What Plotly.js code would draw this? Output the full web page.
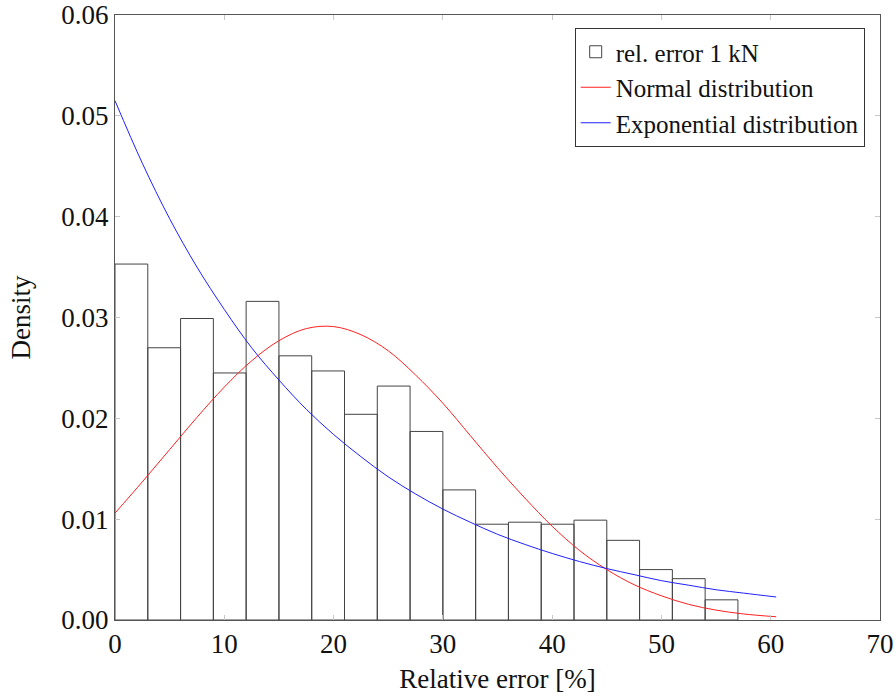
<!DOCTYPE html>
<html>
<head>
<meta charset="utf-8">
<script src="https://cdn.plot.ly/plotly-3.0.1.min.js"></script>
<style>html,body{margin:0;padding:0;background:#fff;}#chart{width:896px;height:697px;}</style>
</head>
<body>
<div id="chart"></div>
<script>
// Histogram bins (width 3) and densities
const binStarts = [0, 3, 6, 9, 12, 15, 18, 21, 24, 27, 30, 33, 36, 39, 42, 45, 48, 51, 54];
const binWidth = 3;
const densities = [0.0353, 0.0270, 0.0299, 0.0245, 0.0316, 0.0262, 0.0247, 0.0204, 0.0232, 0.0187,
                   0.0129, 0.0095, 0.0097, 0.0095, 0.0099, 0.0079, 0.0050, 0.0041, 0.0020];

// Fitted curves, points
const curveX = [0, 2.5, 5, 7.5, 10, 12.5, 15, 17.5, 20, 22.5, 25, 27.5, 30, 32.5, 35, 37.5, 40,
                42.5, 45, 47.5, 50, 52.5, 55, 57.5, 60.5];
const normalY = [0.0106, 0.0137, 0.0169, 0.0201, 0.0231, 0.0257, 0.0277, 0.0289, 0.0291, 0.0283,
                 0.0267, 0.0243, 0.0215, 0.0183, 0.0151, 0.0121, 0.0093, 0.0069, 0.0050, 0.0035,
                 0.0024, 0.00155, 0.00098, 0.0006, 0.00032];
const expY = [0.0515, 0.0453, 0.0398, 0.0350, 0.0308, 0.0270, 0.0238, 0.0209, 0.0184, 0.0162,
              0.0142, 0.0125, 0.0110, 0.0097, 0.0085, 0.0075, 0.0066, 0.0058, 0.0051, 0.0045,
              0.0039, 0.00345, 0.0030, 0.00267, 0.00228];

const seriesNames = ['rel. error 1 kN', 'Normal distribution', 'Exponential distribution'];
const xTicks = [0, 10, 20, 30, 40, 50, 60, 70];
const yTicks = [0, 0.01, 0.02, 0.03, 0.04, 0.05, 0.06];

const FONT = 'Liberation Serif, DejaVu Serif, serif';
const FS = 27;

const traces = [
  {
    type: 'bar',
    x: binStarts.map(s => s + binWidth / 2),
    y: densities,
    width: binWidth,
    name: seriesNames[0],
    marker: {color: 'rgba(255,255,255,0)', line: {color: '#444', width: 1}}
  },
  {
    type: 'scatter', mode: 'lines',
    x: curveX, y: normalY, name: seriesNames[1],
    line: {color: '#ff2020', width: 1, shape: 'spline'}
  },
  {
    type: 'scatter', mode: 'lines',
    x: curveX, y: expY, name: seriesNames[2],
    line: {color: '#2020ff', width: 1, shape: 'spline'}
  }
];

const axisCommon = {
  showgrid: false, zeroline: false,
  showline: true, linecolor: '#555', linewidth: 1, mirror: 'ticks',
  ticks: 'inside', ticklen: 5, tickcolor: '#c8c8c8', tickwidth: 1,
  tickfont: {family: FONT, size: FS, color: '#111'}
};

const layout = {
  width: 896, height: 697,
  margin: {l: 115, r: 16, t: 15, b: 77},
  paper_bgcolor: '#fff', plot_bgcolor: '#fff',
  font: {family: FONT, size: FS, color: '#111'},
  bargap: 0,
  showlegend: true,
  legend: {
    x: 0.98, y: 0.9785, xanchor: 'right', yanchor: 'top',
    bgcolor: '#fff', bordercolor: '#333', borderwidth: 1,
    font: {family: FONT, size: 25, color: '#111'},
    tracegroupgap: 0, itemwidth: 30
  },
  xaxis: Object.assign({}, axisCommon, {
    range: [0, 70], tickvals: xTicks, ticktext: xTicks.map(String),
    title: {text: 'Relative error [%]', font: {family: FONT, size: FS, color: '#111'}, standoff: 10}
  }),
  yaxis: Object.assign({}, axisCommon, {
    range: [0, 0.06], tickvals: yTicks, ticktext: yTicks.map(v => v.toFixed(2)),
    title: {text: 'Density', font: {family: FONT, size: FS, color: '#111'}, standoff: 22}
  })
};

Plotly.newPlot('chart', traces, layout, {staticPlot: true, displayModeBar: false});
</script>
</body>
</html>
